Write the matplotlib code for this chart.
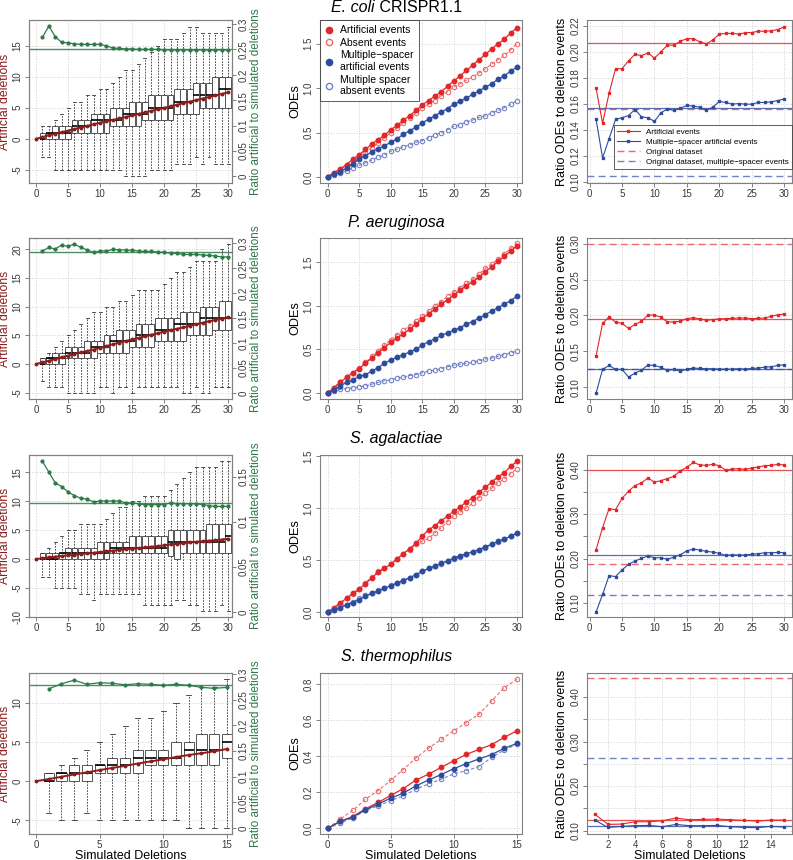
import numpy as np
import matplotlib.pyplot as plt
from matplotlib.lines import Line2D

plt.rcParams['font.family'] = ['Liberation Sans', 'DejaVu Sans']

# ---------------- data ----------------
# title parts: (italic species, regular suffix)
titles = [('E. coli', ' CRISPR1.1'), ('P. aeruginosa', ''), ('S. agalactiae', ''), ('S. thermophilus', '')]

# left column: boxplots of artificial deletions per simulated deletion count
ecoli_q1 = [0,0,0,0,0,1,1,1,1,1,1,2,2,2,2,2,3,3,3,3,3,4,4,4,4,5,5,5,5,5]
ecoli_med = [0,1,1,1,1,2,2,2,3,3,3,3,3,4,4,4,4,5,5,5,5,6,6,6,7,7,7,7,8,8]
ecoli_q3 = [1,1,2,2,2,3,3,3,4,4,4,5,5,5,6,6,6,7,7,7,7,8,8,8,9,9,9,10,10,10]
ecoli_lo = [-3,-3,-5,-5,-5,-5,-5,-5,-5,-5,-5,-5,-5,-6,-6,-6,-6,-5,-5,-5,-5,-4,-4,-4,-3,-4,-3,-4,-4,-4]
ecoli_hi = [2,2,3,4,5,6,6,7,7,8,8,9,10,11,11,12,13,14,15,16,16,16,17,18,18,17,17,17,17,18]
ecoli_ratio = [0.274,0.296,0.275,0.264,0.263,0.261,0.260,0.260,0.260,0.260,0.257,0.253,0.252,0.251,0.251,
               0.250,0.250,0.250,0.250,0.249,0.249,0.249,0.249,0.249,0.249,0.249,0.249,0.249,0.249,0.249]

paer_q1 = [0,0,0,0,1,1,1,1,1,2,2,2,2,2,3,3,3,3,4,4,4,4,4,5,5,5,5,6,6,6]
paer_med = [0,1,1,1,2,2,2,2,3,3,3,4,4,4,4,5,5,5,6,6,6,7,7,7,7,8,8,8,8,8]
paer_q3 = [1,1,2,2,3,3,3,4,4,4,5,5,6,6,6,7,7,7,8,8,8,8,9,9,9,10,10,10,11,11]
paer_lo = [-3,-4,-4,-4,-5,-5,-5,-5,-5,-4,-4,-5,-4,-4,-5,-4,-4,-4,-4,-4,-4,-4,-5,-5,-4,-5,-5,-4,-4,-4]
paer_hi = [1,2,3,4,5,6,7,8,9,9,10,10,11,11,12,13,13,13,13,14,15,16,16,17,18,18,18,18,20,21]
paer_ratio = [0.285,0.292,0.289,0.297,0.294,0.299,0.292,0.287,0.282,0.285,0.285,0.288,0.287,0.287,0.286,
              0.285,0.284,0.284,0.283,0.282,0.281,0.280,0.278,0.278,0.278,0.277,0.276,0.275,0.273,0.273]

saga_q1 = [0,0,0,0,0,0,0,0,0,0,0,1,1,1,1,1,1,1,1,1,0.5,0,1,1,1,1,1,1,1,1]
saga_med = [0,0,0,1,1,1,1,1,1,1,1,2,2,2,2,2,2,2,2,2,3,3,3,3,3,3,3,3,3,4]
saga_q3 = [1,1,1,1,2,2,2,2,2,3,3,3,3,3,4,4,4,4,4,4,5,5,5,5,5,5,6,6,6,6]
saga_lo = [-3,-3,-5,-5,-5,-5,-6,-6,-7,-6,-6,-6,-6,-6,-6,-6,-8,-8,-8,-8,-8,-7,-7,-8,-8,-9,-9,-9,-8,-9]
saga_hi = [1,2,3,4,5,5,6,6,6,6,7,8,9,9,10,10,11,11,11,11,12,13,14,15,16,16,16,16,17,17]
saga_ratio = [0.167,0.155,0.143,0.139,0.133,0.129,0.126,0.125,0.122,0.123,0.123,0.123,0.123,0.121,0.121,
              0.120,0.119,0.119,0.119,0.119,0.121,0.120,0.120,0.120,0.120,0.119,0.118,0.117,0.117,0.117]

sther_q1 = [0,0,0,0,1,1,1,1,2,2,2,2,2,2,3]
sther_med = [0,1,1,1,2,2,2,3,3,3,3,4,4,4,5]
sther_q3 = [1,1,2,2,2,3,3,4,4,4,5,5,6,6,6]
sther_lo = [-4,-5,-5,-4,-5,-5,-5,-5,-5,-5,-5,-6,-6,-6,-6]
sther_hi = [1,2,3,4,5,6,7,8,8,9,10,11,12,12,13]
sther_ratio = [0.271,0.281,0.288,0.280,0.283,0.282,0.279,0.281,0.280,0.278,0.280,0.278,0.274,0.272,0.274]

ratio_mean_line = [0.250, 0.2826, 0.1207, 0.279]

# middle column: ODEs
ecoli_art = [0,0.05,0.09,0.14,0.20,0.25,0.31,0.37,0.42,0.47,0.53,0.58,0.64,0.69,0.75,0.81,0.86,0.91,0.96,1.02,
             1.08,1.14,1.20,1.26,1.32,1.38,1.44,1.50,1.55,1.62,1.68]
ecoli_abs = [0,0.04,0.08,0.13,0.18,0.23,0.28,0.33,0.38,0.44,0.50,0.55,0.61,0.66,0.72,0.78,0.82,0.86,0.91,0.96,
             1.01,1.05,1.09,1.13,1.17,1.22,1.27,1.32,1.37,1.43,1.50]
ecoli_mart = [0,0.03,0.06,0.10,0.15,0.20,0.24,0.28,0.32,0.35,0.39,0.43,0.48,0.52,0.56,0.61,0.65,0.69,0.73,0.77,
              0.82,0.85,0.89,0.93,0.97,1.01,1.05,1.10,1.14,1.19,1.24]
ecoli_mabs = [0,0.02,0.05,0.07,0.10,0.13,0.16,0.19,0.22,0.25,0.29,0.31,0.34,0.36,0.39,0.41,0.44,0.47,0.50,0.53,
              0.57,0.59,0.62,0.64,0.67,0.69,0.72,0.75,0.78,0.82,0.86]

paer_art = [0,0.06,0.12,0.18,0.23,0.28,0.34,0.40,0.46,0.52,0.58,0.63,0.68,0.73,0.79,0.85,0.91,0.96,1.02,1.07,
            1.12,1.18,1.23,1.28,1.33,1.39,1.45,1.51,1.57,1.63,1.69]
paer_abs = [0,0.06,0.13,0.18,0.23,0.29,0.35,0.42,0.48,0.55,0.61,0.67,0.72,0.77,0.83,0.88,0.94,1.00,1.05,1.11,
            1.16,1.21,1.26,1.31,1.37,1.43,1.48,1.54,1.60,1.66,1.72]
paer_mart = [0,0.03,0.08,0.12,0.15,0.19,0.21,0.25,0.29,0.34,0.38,0.41,0.44,0.47,0.50,0.55,0.59,0.62,0.66,0.69,
             0.72,0.75,0.79,0.82,0.86,0.90,0.94,0.98,1.02,1.06,1.11]
paer_mabs = [0,0.02,0.04,0.05,0.06,0.07,0.08,0.10,0.12,0.14,0.15,0.17,0.18,0.20,0.21,0.23,0.25,0.26,0.28,0.30,
             0.32,0.33,0.34,0.35,0.37,0.39,0.40,0.42,0.44,0.46,0.48]

saga_art = [0,0.04,0.09,0.13,0.18,0.22,0.27,0.33,0.38,0.42,0.46,0.51,0.56,0.61,0.66,0.73,0.79,0.83,0.88,0.92,
            0.97,1.01,1.06,1.10,1.15,1.20,1.25,1.30,1.34,1.40,1.45]
saga_abs = [0,0.03,0.08,0.13,0.17,0.22,0.28,0.34,0.39,0.42,0.46,0.51,0.56,0.60,0.65,0.68,0.71,0.76,0.81,0.87,
            0.92,0.96,1.00,1.05,1.10,1.14,1.19,1.24,1.28,1.33,1.38]
saga_mart = [0,0.02,0.04,0.07,0.09,0.12,0.15,0.18,0.20,0.23,0.25,0.28,0.30,0.33,0.36,0.39,0.42,0.44,0.47,0.49,
             0.52,0.54,0.56,0.58,0.60,0.63,0.65,0.68,0.70,0.73,0.76]
saga_mabs = [0,0.02,0.05,0.07,0.10,0.13,0.16,0.18,0.21,0.23,0.26,0.28,0.31,0.33,0.36,0.39,0.42,0.44,0.46,0.49,
             0.51,0.53,0.56,0.58,0.60,0.62,0.65,0.67,0.70,0.73,0.76]

sther_art = [0,0.039,0.066,0.109,0.144,0.183,0.221,0.269,0.301,0.339,0.376,0.411,0.439,0.465,0.506,0.542]
sther_abs = [0,0.052,0.100,0.162,0.210,0.267,0.327,0.391,0.446,0.494,0.542,0.588,0.635,0.708,0.782,0.828]
sther_mart = [0,0.039,0.063,0.103,0.135,0.168,0.196,0.236,0.269,0.299,0.332,0.360,0.386,0.410,0.445,0.472]
sther_mabs = [0,0.030,0.057,0.100,0.125,0.155,0.181,0.218,0.247,0.273,0.303,0.321,0.343,0.395,0.435,0.467]

# right column: ratio ODEs to deletion events
ecoli_r_art = [0.172,0.145,0.168,0.187,0.187,0.193,0.198,0.197,0.199,0.195,0.200,0.205,0.205,0.208,0.210,
               0.210,0.2075,0.206,0.209,0.2135,0.214,0.214,0.2135,0.2145,0.2147,0.2157,0.2157,0.216,0.217,0.219]
ecoli_r_mart = [0.148,0.1184,0.1332,0.148,0.1493,0.151,0.1556,0.150,0.1493,0.1465,0.1532,0.156,0.155,0.1567,0.1587,
                0.1582,0.1574,0.155,0.1574,0.1618,0.161,0.1597,0.1602,0.1597,0.1597,0.161,0.161,0.1615,0.1625,0.1636]
paer_r_art = [0.1439,0.189,0.198,0.1907,0.189,0.182,0.1875,0.192,0.2006,0.2006,0.1975,0.191,0.191,0.192,0.1956,
              0.197,0.1951,0.1933,0.1942,0.1951,0.1956,0.196,0.1965,0.1965,0.1956,0.196,0.1965,0.1988,0.201,0.202]
paer_r_mart = [0.092,0.125,0.1305,0.125,0.125,0.1143,0.1199,0.124,0.131,0.1305,0.1277,0.1236,0.125,0.1222,0.1254,
               0.1268,0.1263,0.1259,0.1259,0.1254,0.1254,0.1254,0.1259,0.1254,0.1263,0.1268,0.1282,0.1286,0.1305,0.1314]
saga_r_art = [0.2199,0.2698,0.3122,0.310,0.3353,0.3517,0.3643,0.3703,0.3814,0.3718,0.3755,0.380,0.3852,0.3978,0.4053,
              0.4164,0.4105,0.4097,0.412,0.409,0.3986,0.4016,0.4023,0.4008,0.4038,0.406,0.409,0.4097,0.412,0.4105]
saga_r_mart = [0.0799,0.1194,0.1618,0.1596,0.1745,0.1871,0.1946,0.2005,0.2058,0.202,0.202,0.1983,0.2035,0.2087,0.2177,
               0.2214,0.2192,0.2162,0.2147,0.2117,0.2072,0.2087,0.208,0.208,0.2102,0.211,0.2132,0.2132,0.2139,0.2132]
sther_r_art = [0.1372,0.1141,0.1149,0.1201,0.1201,0.1223,0.1283,0.1246,0.1253,0.1261,0.1246,0.1231,0.1216,0.1238,0.1238]
sther_r_mart = [0.1238,0.1074,0.1097,0.1112,0.1119,0.1089,0.1141,0.1112,0.1112,0.1119,0.1089,0.1074,0.1067,0.1097,0.1082]

# horizontal reference lines: artificial mean, multi-spacer mean, original, original multi-spacer
ref_lines = [[0.207, 0.1567, 0.156, 0.1043],
             [0.195, 0.1254, 0.299, 0.126],
             [0.400, 0.208, 0.1879, 0.1179],
             [0.1238, 0.1104, 0.4418, 0.2638]]

boxes = [(ecoli_q1, ecoli_med, ecoli_q3, ecoli_lo, ecoli_hi, ecoli_ratio),
         (paer_q1, paer_med, paer_q3, paer_lo, paer_hi, paer_ratio),
         (saga_q1, saga_med, saga_q3, saga_lo, saga_hi, saga_ratio),
         (sther_q1, sther_med, sther_q3, sther_lo, sther_hi, sther_ratio)]
odes = [(ecoli_art, ecoli_abs, ecoli_mart, ecoli_mabs),
        (paer_art, paer_abs, paer_mart, paer_mabs),
        (saga_art, saga_abs, saga_mart, saga_mabs),
        (sther_art, sther_abs, sther_mart, sther_mabs)]
ratios = [(ecoli_r_art, ecoli_r_mart), (paer_r_art, paer_r_mart),
          (saga_r_art, saga_r_mart), (sther_r_art, sther_r_mart)]

# axis limits / ticks per row
left_ylim = [(-7.1, 19.1), (-6.1, 22.0), (-10.0, 18.0), (-6.74, 13.8)]
left_yticks = [[-5, 0, 5, 10, 15], [-5, 0, 5, 10, 15, 20], [-10, -5, 0, 5, 10, 15], [-5, 0, 5, 10]]
twin_ylim = [(-0.013, 0.308), (-0.012, 0.311), (-0.0056, 0.174), (-0.012, 0.302)]
twin_yticks = [[0, 0.05, 0.1, 0.15, 0.2, 0.25, 0.3]] * 2 + [[0, 0.05, 0.1, 0.15]] + [[0, 0.05, 0.1, 0.15, 0.2, 0.25, 0.3]]
mid_ylim = [(-0.068, 1.767), (-0.07, 1.78), (-0.048, 1.51), (-0.031, 0.863)]
mid_yticks = [[0.0, 0.5, 1.0, 1.5]] * 3 + [[0.0, 0.2, 0.4, 0.6, 0.8]]
right_ylim = [(0.0992, 0.2243), (0.0838, 0.3078), (0.0687, 0.433), (0.0926, 0.4537)]
right_yticks = [[0.10, 0.12, 0.14, 0.16, 0.18, 0.20, 0.22],
                [0.10, 0.15, 0.20, 0.25, 0.30],
                [0.10, 0.15, 0.20, 0.25, 0.30, 0.35, 0.40],
                [0.10, 0.15, 0.20, 0.25, 0.30, 0.35, 0.40]]
right_ylabels = [None, None, ['0.10', '', '0.20', '', '0.30', '', '0.40'], ['0.10', '', '0.20', '', '0.30', '', '0.40']]

RED = '#e3262a'
RED_LIGHT = '#ec6a6c'
BLUE = '#2e4c9c'
BLUE_LIGHT = '#7382c4'
DARKRED = '#8e1c1c'
GREEN = '#2e7a48'

W, H = 793, 860
fig = plt.figure(figsize=(W / 100, H / 100), dpi=100)

rows_px = [(20, 183), (238, 399), (455, 617), (673, 834)]
cols_px = [(29, 232), (320, 522), (587, 792)]
title_y_px = [8, 223, 439, 656]


def add_ax(col, row):
    x0, x1 = cols_px[col]
    y0, y1 = rows_px[row]
    return fig.add_axes([x0 / W, 1 - y1 / H, (x1 - x0) / W, (y1 - y0) / H])


def style(ax, grid=True):
    for s in ax.spines.values():
        s.set_color('#808080')
        s.set_linewidth(0.8)
    ax.tick_params(colors='#808080', labelcolor='#3a3a3a', labelsize=7, length=3, width=0.7, pad=1.5)
    if grid:
        ax.grid(True, color='#d0d0d0', linestyle=':', linewidth=0.7)
        ax.set_axisbelow(True)


for i in range(4):
    n = 15 if i == 3 else 30
    xs = np.arange(1, n + 1)
    xs0 = np.arange(0, n + 1)
    xticks = [0, 5, 10, 15] if i == 3 else [0, 5, 10, 15, 20, 25, 30]

    # ---- left: boxplots + ratio ----
    q1, med, q3, lo, hi, ratio = boxes[i]
    ax = add_ax(0, i)
    style(ax)
    stats = [dict(q1=a, med=m, q3=b, whislo=l, whishi=h, fliers=[])
             for a, m, b, l, h in zip(q1, med, q3, lo, hi)]
    bw = 0.8 if i == 3 else 0.9
    ax.bxp(stats, positions=xs, widths=bw, capwidths=bw / 2, patch_artist=True,
           showfliers=False, manage_ticks=False,
           boxprops=dict(facecolor='white', edgecolor='#555555', linewidth=0.7),
           whiskerprops=dict(color='#333333', linewidth=0.6, linestyle=(0, (2, 1.5))),
           capprops=dict(color='#333333', linewidth=0.6),
           medianprops=dict(color='black', linewidth=1.2))
    mean_vals = np.concatenate([[0], np.array(ratio) * xs])
    ax.plot(xs0, mean_vals, color=DARKRED, lw=1.4, marker='o', ms=1.8, zorder=4)
    ax.set_xlim((-0.55, 15.4) if i == 3 else (-1.1, 30.6))
    ax.set_ylim(left_ylim[i])
    ax.set_xticks(xticks)
    ax.set_yticks(left_yticks[i], labels=[str(v) for v in left_yticks[i]], rotation=90, va='center')
    ax.set_ylabel('Artificial deletions', color=DARKRED, fontsize=8.8, labelpad=1)

    ax2 = ax.twinx()
    style(ax2, grid=False)
    ax2.plot(xs, ratio, color=GREEN, lw=0.9, marker='o', ms=2.0, zorder=5)
    ax2.axhline(ratio_mean_line[i], color=GREEN, lw=1.0, alpha=0.85)
    ax2.set_ylim(twin_ylim[i])
    ax2.set_yticks(twin_yticks[i], labels=[('%g' % v) for v in twin_yticks[i]], rotation=90, va='center')
    ax2.set_ylabel('Ratio artificial to simulated deletions', color=GREEN, fontsize=8.4, labelpad=1)

    # ---- middle: ODEs ----
    art, ab, mart, mab = odes[i]
    axm = add_ax(1, i)
    style(axm)
    axm.plot(xs0, ab, color=RED_LIGHT, lw=0.8, ls=(0, (3, 2)), marker='o', mfc='none', ms=3.2, mew=0.8)
    axm.plot(xs0, art, color=RED, lw=0.9, marker='o', ms=3.2)
    axm.plot(xs0, mab, color=BLUE_LIGHT, lw=0.8, ls=(0, (3, 2)), marker='o', mfc='none', ms=3.2, mew=0.8)
    axm.plot(xs0, mart, color=BLUE, lw=0.9, marker='o', ms=3.2)
    axm.set_xlim((-0.6, 15.4) if i == 3 else (-1.2, 30.8))
    axm.set_ylim(mid_ylim[i])
    axm.set_xticks(xticks)
    axm.set_yticks(mid_yticks[i], labels=['%.1f' % v for v in mid_yticks[i]], rotation=90, va='center')
    axm.set_ylabel('ODEs', fontsize=9.2, labelpad=2)
    if i == 0:
        handles = [Line2D([], [], ls='none', marker='o', color=RED, ms=4.5),
                   Line2D([], [], ls='none', marker='o', color=RED_LIGHT, mfc='none', ms=4.5),
                   Line2D([], [], ls='none', marker='o', color=BLUE, ms=4.5),
                   Line2D([], [], ls='none', marker='o', color=BLUE_LIGHT, mfc='none', ms=4.5)]
        labels = ['Artificial events', 'Absent events', 'Multiple\u2212spacer\nartificial events',
                  'Multiple spacer\nabsent events']
        leg = axm.legend(handles, labels, loc='upper left', fontsize=7.5, frameon=True, fancybox=False,
                         borderaxespad=0, handlelength=0.8, handletextpad=0.6, labelspacing=0.25,
                         borderpad=0.5)
        leg.get_frame().set_edgecolor('#333333')
        leg.get_frame().set_linewidth(0.7)

    # title centred on the figure, species name in italics
    sp, rest = titles[i]
    ty = 1 - title_y_px[i] / H
    t1 = fig.text(0, ty, sp, fontsize=11.5, style='italic', va='center', ha='left')
    t2 = fig.text(0, ty, rest, fontsize=11.5, va='center', ha='left')
    fig.canvas.draw()
    r = fig.canvas.get_renderer()
    w1 = t1.get_window_extent(r).width
    w2 = t2.get_window_extent(r).width if rest else 0
    x_start = (W - (w1 + w2)) / 2
    t1.set_x(x_start / W)
    t2.set_x((x_start + w1) / W)

    # ---- right: ratio ODEs ----
    r_art, r_mart = ratios[i]
    axr = add_ax(2, i)
    style(axr)
    ra, rm, od, odm = ref_lines[i]
    axr.axhline(od, color=RED_LIGHT, lw=1.0, ls=(0, (5, 3)))
    axr.axhline(odm, color=BLUE_LIGHT, lw=1.0, ls=(0, (5, 3)))
    axr.axhline(ra, color=RED, lw=0.9, alpha=0.8)
    axr.axhline(rm, color=BLUE, lw=0.9, alpha=0.8)
    axr.plot(xs, r_art, color=RED, lw=0.8, marker='s', ms=1.8)
    axr.plot(xs, r_mart, color=BLUE, lw=0.8, marker='s', ms=1.8)
    axr.set_xlim((0.44, 15.56) if i == 3 else (-0.4, 31.2))
    axr.set_ylim(right_ylim[i])
    axr.set_xticks([2, 4, 6, 8, 10, 12, 14] if i == 3 else [0, 5, 10, 15, 20, 25, 30])
    ylabs = right_ylabels[i] or ['%.2f' % v for v in right_yticks[i]]
    axr.set_yticks(right_yticks[i], labels=ylabs, rotation=90, va='center')
    axr.set_ylabel('Ratio ODEs to deletion events', fontsize=9.0, labelpad=2)
    if i == 0:
        handles = [Line2D([], [], color=RED, lw=0.8, marker='s', ms=2),
                   Line2D([], [], color=BLUE, lw=0.8, marker='s', ms=2),
                   Line2D([], [], color=RED_LIGHT, lw=1.0, ls=(0, (5, 3))),
                   Line2D([], [], color=BLUE_LIGHT, lw=1.0, ls=(0, (5, 3)))]
        labels = ['Artificial events', 'Multiple\u2212spacer artificial events', 'Original dataset',
                  'Original dataset, multiple\u2212spacer events']
        leg = axr.legend(handles, labels, loc='lower right', bbox_to_anchor=(1.0, 0.085), fontsize=5.8,
                         frameon=True, fancybox=False, borderaxespad=0, handlelength=2.8,
                         handletextpad=0.8, labelspacing=0.3, borderpad=0.4)
        leg.get_frame().set_edgecolor('#333333')
        leg.get_frame().set_linewidth(0.7)

    if i == 3:
        for a in (ax, axm, axr):
            a.set_xlabel('Simulated Deletions', fontsize=9.0, labelpad=-0.5)

fig.savefig('out.png', dpi=100)
